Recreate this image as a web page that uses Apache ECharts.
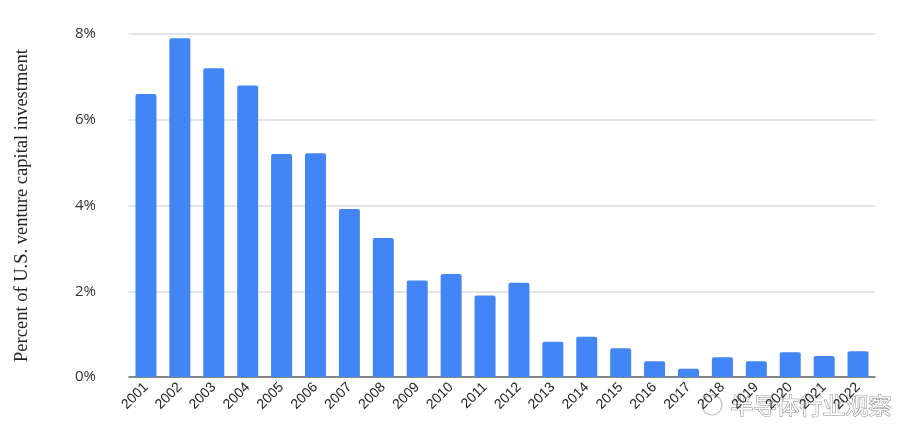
<!DOCTYPE html>
<html>
<head>
<meta charset="utf-8">
<script src="https://cdn.jsdelivr.net/npm/echarts@6/dist/echarts.min.js"></script>
<style>
  html, body { margin: 0; padding: 0; background: #fff; }
  #chart { width: 920px; height: 446px; }
</style>
</head>
<body>
<div id="chart"></div>
<script>
// years on the x axis
const years = ['2001', '2002', '2003', '2004', '2005', '2006', '2007', '2008', '2009', '2010', '2011',
    '2012', '2013', '2014', '2015', '2016', '2017', '2018', '2019', '2020', '2021', '2022'];
// share of US VC investment, percent
const shares = [6.6, 7.9, 7.2, 6.8, 5.2, 5.22, 3.92, 3.24, 2.25, 2.4, 1.9,
    2.2, 0.82, 0.94, 0.67, 0.37, 0.19, 0.46, 0.37, 0.58, 0.49, 0.6];
const yTicks = [0, 2, 4, 6, 8];
const yTitle = 'Percent of U.S. venture capital investment';
const watermark = '半导体行业观察';

const myChart = echarts.init(document.getElementById('chart'));

const option = {
    animation: false,
    grid: { left: 129, right: 45, top: 34, bottom: 69 },
    xAxis: {
        type: 'category',
        data: years,
        axisTick: { show: false },
        axisLine: { lineStyle: { color: '#666', width: 1.5 } },
        axisLabel: {
            rotate: 45,
            interval: 0,
            margin: 8,
            color: '#222',
            fontSize: 14,
            fontFamily: 'Liberation Sans'
        }
    },
    yAxis: {
        type: 'value',
        min: yTicks[0],
        max: yTicks[yTicks.length - 1],
        interval: 2,
        name: yTitle,
        nameLocation: 'middle',
        nameGap: 97,
        nameTextStyle: { color: '#222', fontSize: 18.5, fontFamily: 'Liberation Serif' },
        axisLine: { show: false },
        axisTick: { show: false },
        axisLabel: {
            formatter: '{value}%',
            color: '#333',
            fontSize: 15,
            margin: 33,
            fontFamily: 'Open Sans'
        },
        splitLine: { lineStyle: { color: '#dcdcdc', width: 1.5 } }
    },
    series: [{
        type: 'bar',
        data: shares,
        barWidth: 21,
        itemStyle: { color: '#4285f4', borderRadius: [2, 2, 0, 0] }
    }],
    graphic: [
        {
            type: 'circle',
            shape: { cx: 712, cy: 405, r: 10 },
            style: { fill: 'none', stroke: '#bbb', lineWidth: 1.2 }
        },
        {
            type: 'text',
            left: 730,
            top: 393,
            style: {
                text: watermark,
                fill: '#fff',
                stroke: '#888',
                lineWidth: 1,
                fontSize: 23,
                fontFamily: 'Noto Sans CJK SC'
            }
        }
    ]
};

myChart.setOption(option);
</script>
</body>
</html>
